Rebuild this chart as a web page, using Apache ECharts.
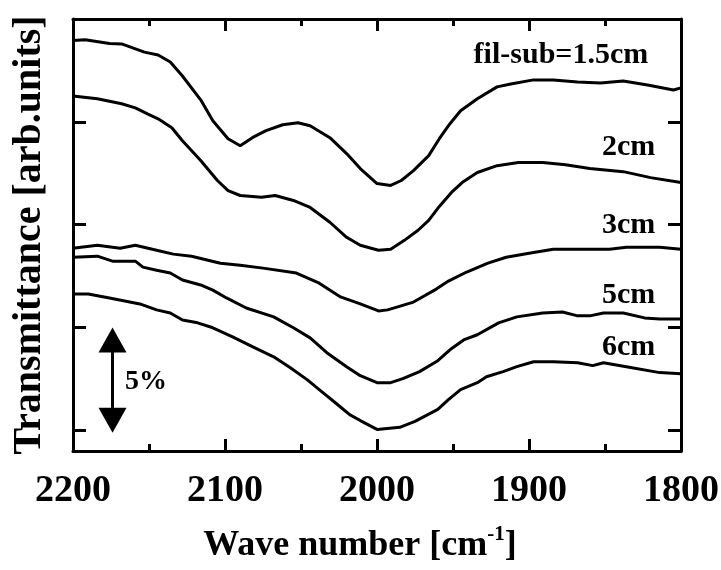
<!DOCTYPE html>
<html>
<head>
<meta charset="utf-8">
<script src="https://cdn.jsdelivr.net/npm/echarts@6/dist/echarts.min.js"></script>
<style>html,body{margin:0;padding:0;background:#fff}#c{width:721px;height:570px}</style>
</head>
<body>
<div id="c"></div>
<script>
// ---- Data: [wave number (cm^-1), transmittance offset (%)] ----
const seriesNames = ['fil-sub=1.5cm', '2cm', '3cm', '5cm', '6cm'];
const s15 = [[2200,18.96],[2192,18.99],[2176,18.81],[2168,18.79],[2153,18.39],[2144,18.25],[2136,17.91],[2128,17.23],[2116,16.07],[2108,15.05],[2098,14.18],[2090,13.84],[2082,14.23],[2073,14.57],[2062,14.86],[2052,14.96],[2044,14.81],[2031,14.23],[2020,13.46],[2011,12.73],[2000,12.00],[1991,11.91],[1984,12.15],[1976,12.63],[1966,13.36],[1959,14.18],[1952,14.91],[1945,15.54],[1934,16.12],[1921,16.70],[1912,16.84],[1897,17.04],[1884,17.04],[1868,16.94],[1853,16.89],[1838,16.99],[1822,16.79],[1805,16.55],[1800,16.65]];
const s2 = [[2200,16.26],[2184,16.12],[2168,15.88],[2159,15.68],[2151,15.39],[2144,15.15],[2135,14.71],[2128,14.08],[2116,13.12],[2105,12.15],[2098,11.66],[2090,11.42],[2076,11.33],[2067,11.42],[2055,11.18],[2044,10.84],[2031,10.12],[2020,9.39],[2011,9.00],[1999,8.76],[1991,8.81],[1982,9.24],[1973,9.73],[1966,10.21],[1959,10.89],[1951,11.57],[1944,12.05],[1934,12.54],[1921,12.87],[1907,13.02],[1891,13.02],[1876,12.92],[1860,12.73],[1838,12.58],[1820,12.29],[1800,12.05]];
const s3 = [[2200,8.86],[2184,9.00],[2169,8.86],[2159,9.00],[2145,8.76],[2134,8.57],[2122,8.47],[2103,8.13],[2090,8.03],[2075,7.89],[2053,7.65],[2038,7.16],[2024,6.49],[2011,6.15],[1999,5.81],[1993,5.86],[1976,6.24],[1961,6.87],[1953,7.26],[1941,7.70],[1927,8.13],[1915,8.42],[1899,8.62],[1884,8.81],[1862,8.81],[1847,8.81],[1836,8.91],[1814,8.91],[1800,8.81]];
const s5 = [[2200,8.42],[2184,8.47],[2174,8.23],[2159,8.23],[2154,7.94],[2145,7.79],[2136,7.65],[2128,7.31],[2116,7.07],[2108,6.82],[2099,6.44],[2086,5.95],[2068,5.52],[2055,4.99],[2044,4.50],[2033,3.78],[2020,3.10],[2011,2.66],[2000,2.32],[1991,2.32],[1983,2.52],[1972,2.86],[1960,3.39],[1952,3.92],[1943,4.40],[1934,4.65],[1920,5.23],[1908,5.52],[1891,5.71],[1878,5.76],[1868,5.57],[1860,5.57],[1851,5.71],[1838,5.71],[1824,5.47],[1814,5.42],[1800,5.42]];
const s6 = [[2200,6.63],[2190,6.63],[2176,6.44],[2156,6.15],[2145,5.86],[2136,5.71],[2128,5.37],[2118,5.23],[2108,4.99],[2095,4.55],[2082,4.07],[2068,3.58],[2057,3.05],[2046,2.47],[2038,1.98],[2026,1.26],[2018,0.77],[2011,0.48],[2000,0.05],[1985,0.15],[1975,0.44],[1960,1.02],[1953,1.50],[1945,1.98],[1934,2.32],[1928,2.61],[1917,2.86],[1908,3.10],[1897,3.34],[1884,3.34],[1868,3.29],[1858,3.15],[1851,3.29],[1836,3.10],[1814,2.81],[1800,2.76]];
const seriesData = [s15, s2, s3, s5, s6];
// label anchor positions (data coordinates) for curve names
const labelAnchors = [[1879,18.22],[1834.5,13.77],[1834.5,9.99],[1834.5,6.56],[1834.5,4.04]];
const xTicks = [2200, 2100, 2000, 1900, 1800];
const yTicks = [0, 5, 10, 15];
// 5% scale bar: endpoints are the arrow-head centres
const scaleBar = { x: 2174, from: 0.5, to: 4.4, text: '5%', labelAt: [2152, 2.37] };

const FONT = "'Liberation Serif','Times New Roman',serif";
const chart = echarts.init(document.getElementById('c'), null, {renderer: 'canvas'});

const xCommon = {
  type: 'value', inverse: true, min: 1800, max: 2200, interval: 100,
  axisLine: {show: true, onZero: false, lineStyle: {color: '#000', width: 3}},
  axisTick: {show: true, inside: true, length: 12, lineStyle: {color: '#000', width: 3}},
  minorTick: {show: true, splitNumber: 2, length: 7, lineStyle: {color: '#000', width: 3}},
  splitLine: {show: false}
};
const yCommon = {
  type: 'value', min: -1, max: 20,
  axisLine: {show: true, onZero: false, lineStyle: {color: '#000', width: 3}},
  axisTick: {show: true, inside: true, length: 13, customValues: yTicks, lineStyle: {color: '#000', width: 3}},
  axisLabel: {show: false},
  splitLine: {show: false}
};

const series = seriesData.map((d, i) => ({
  name: seriesNames[i], type: 'line', data: d, showSymbol: false, symbol: 'none',
  lineStyle: {color: '#000', width: 3}, silent: true, z: 3,
  markPoint: {
    symbol: 'circle', symbolSize: 0, silent: true,
    data: [{coord: labelAnchors[i], value: seriesNames[i]}],
    label: {show: true, position: 'inside', formatter: seriesNames[i], color: '#000',
      fontFamily: FONT, fontWeight: 'bold', fontSize: 30}
  }
}));
series.push({
  name: 'scale', type: 'line', data: [], silent: true,
  markLine: {
    silent: true, symbol: ['triangle', 'triangle'], symbolSize: [28, 25],
    label: {show: false},
    lineStyle: {color: '#000', width: 3, type: 'solid'},
    data: [[{coord: [scaleBar.x, scaleBar.from]}, {coord: [scaleBar.x, scaleBar.to]}]]
  },
  markPoint: {
    symbol: 'circle', symbolSize: 0, silent: true,
    data: [{coord: scaleBar.labelAt}],
    label: {show: true, position: 'inside', formatter: scaleBar.text, color: '#000',
      fontFamily: FONT, fontWeight: 'bold', fontSize: 28}
  }
});

chart.setOption({
  animation: false,
  backgroundColor: '#fff',
  grid: {left: 73, right: 40, top: 19, bottom: 119, containLabel: false, outerBoundsMode: 'none'},
  xAxis: [
    Object.assign({}, xCommon, {
      position: 'bottom',
      axisLabel: {show: true, margin: 21, color: '#000', fontFamily: FONT, fontWeight: 'bold', fontSize: 38,
        formatter: v => String(v), customValues: xTicks},
      name: '{a|Wave number [cm}{s|-1}{a|]}',
      nameLocation: 'middle', nameGap: 73,
      nameTextStyle: {
        padding: [0, 34, 0, 0],
        rich: {
          a: {fontFamily: FONT, fontWeight: 'bold', fontSize: 36, color: '#000', lineHeight: 40, verticalAlign: 'bottom'},
          s: {fontFamily: FONT, fontWeight: 'bold', fontSize: 21, color: '#000', lineHeight: 40, verticalAlign: 'top'}
        }
      }
    }),
    Object.assign({}, xCommon, {position: 'top', axisLabel: {show: false}})
  ],
  yAxis: [
    Object.assign({}, yCommon, {
      position: 'left',
      name: 'Transmittance [arb.units]', nameLocation: 'middle', nameGap: 23,
      nameTextStyle: {fontFamily: FONT, fontWeight: 'bold', fontSize: 40, color: '#000'}
    }),
    Object.assign({}, yCommon, {position: 'right'})
  ],
  series: series
});
</script>
</body>
</html>
